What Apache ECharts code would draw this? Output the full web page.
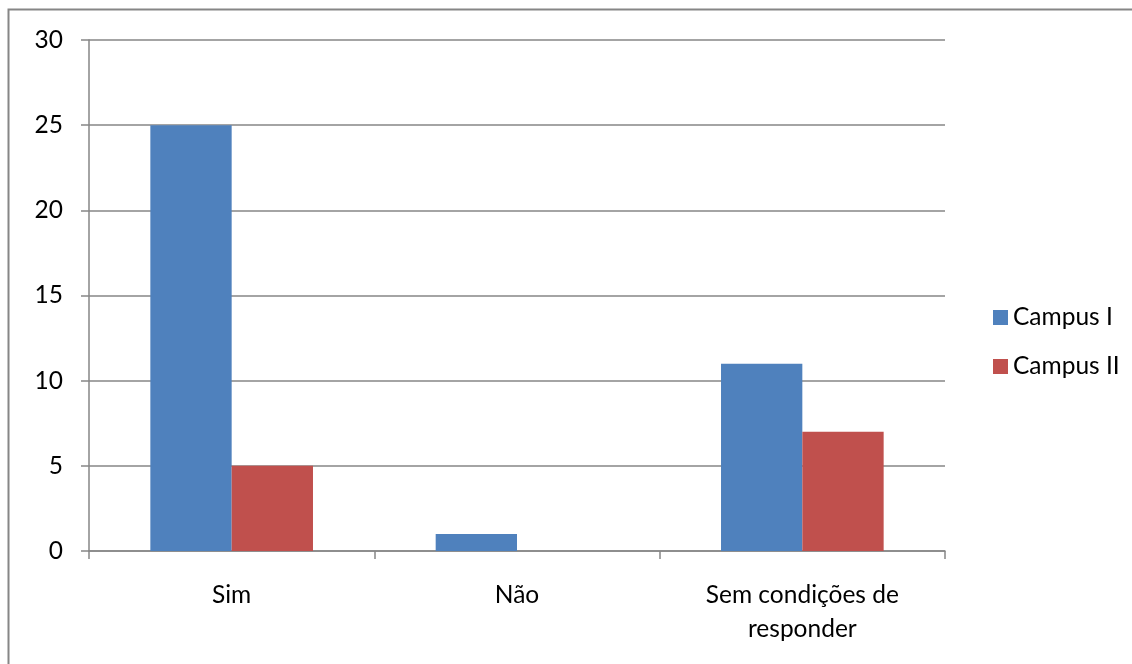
<!DOCTYPE html>
<html><head><meta charset="utf-8">
<script src="https://cdn.jsdelivr.net/npm/echarts@6/dist/echarts.min.js"></script>
<style>html,body{margin:0;padding:0;background:#fff}#c{width:1132px;height:664px}</style>
</head><body><div id="c"></div>
<script>
const categories = ["Sim", "Não", "Sem condições de\nresponder"];
const seriesNames = ["Campus I", "Campus II"];
const campusI = [25, 1, 11];
const campusII = [5, 0, 7];
const yTicks = { min: 0, max: 30, interval: 5 };

const chart = echarts.init(document.getElementById('c'), null, { renderer: 'canvas' });
const font = 'Lato, "Open Sans", sans-serif';
chart.setOption({
  animation: false,
  backgroundColor: '#fff',
  graphic: [{
    type: 'rect', shape: { x: 8.5, y: 9.5, width: 1200, height: 700 },
    style: { fill: 'none', stroke: '#868686', lineWidth: 2 }, silent: true
  }],
  grid: { left: 89, top: 40, width: 856, height: 511, containLabel: false },
  legend: {
    orient: 'vertical', left: 988, top: 300, itemWidth: 15, itemHeight: 15, itemGap: 24,
    icon: 'rect',
    textStyle: { fontFamily: font, fontSize: 24.5, lineHeight: 24, color: '#000' },
    data: seriesNames
  },
  xAxis: {
    type: 'category', data: categories,
    axisLine: { lineStyle: { color: '#868686', width: 1.5 } },
    axisTick: { show: true, length: 8, alignWithLabel: false, lineStyle: { color: '#868686', width: 1.5 } },
    axisLabel: { fontFamily: font, fontSize: 24.5, color: '#000', margin: 27, lineHeight: 34, interval: 0 }
  },
  yAxis: {
    type: 'value', min: yTicks.min, max: yTicks.max, interval: yTicks.interval,
    axisLine: { show: true, lineStyle: { color: '#868686', width: 1.5 } },
    axisTick: { show: true, length: 8, lineStyle: { color: '#868686', width: 1.5 } },
    splitLine: { show: true, lineStyle: { color: '#868686', width: 1.5 } },
    axisLabel: { fontFamily: font, fontSize: 24.5, color: '#000', margin: 26 }
  },
  series: [
    { name: seriesNames[0], type: 'bar', data: campusI, barGap: '0%', barCategoryGap: '43%',
      itemStyle: { color: '#4F81BD' } },
    { name: seriesNames[1], type: 'bar', data: campusII, barGap: '0%', barCategoryGap: '43%',
      itemStyle: { color: '#C0504D' } }
  ]
});
</script></body></html>
